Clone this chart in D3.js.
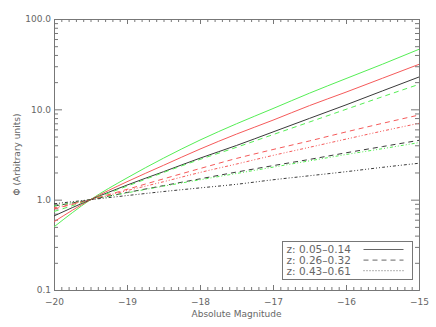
<!DOCTYPE html>
<html>
<head>
<meta charset="utf-8">
<script src="https://cdn.jsdelivr.net/npm/d3@7"></script>
<style>
  body { margin: 0; background: #fff; }
  svg { display: block; font-family: "DejaVu Sans", sans-serif; }
</style>
</head>
<body>
<div id="chart"></div>
<script>
// absolute magnitude grid the curves are read at
const mags = [-20, -19.5, -19, -18.5, -18, -17.5, -17, -16.5, -16, -15.5, -15];

// z: 0.05-0.14 (solid)
const blackLow = [0.66, 1.0, 1.45, 2.04, 2.88, 3.98, 5.62, 7.94, 11.2, 16.0, 22.8];
const redLow   = [0.57, 1.0, 1.58, 2.40, 3.63, 5.32, 7.59, 11.0, 15.5, 22.1, 31.5];
const greenLow = [0.50, 1.0, 1.74, 2.88, 4.57, 6.92, 10.2, 15.1, 21.9, 31.6, 46.2];
// z: 0.26-0.32 (dashed)
const blackMid = [0.85, 1.0, 1.20, 1.43, 1.70, 2.02, 2.38, 2.79, 3.30, 3.87, 4.54];
const redMid   = [0.79, 1.0, 1.30, 1.70, 2.21, 2.86, 3.59, 4.47, 5.62, 7.00, 8.65];
const greenMid = [0.74, 1.0, 1.41, 2.00, 2.79, 3.80, 5.25, 7.24, 10.0, 13.8, 18.9];
// z: 0.43-0.61 (dotted)
const blackHigh = [0.90, 1.0, 1.11, 1.23, 1.35, 1.48, 1.66, 1.84, 2.04, 2.28, 2.53];
const redHigh   = [0.81, 1.0, 1.26, 1.58, 2.00, 2.48, 3.09, 3.80, 4.68, 5.75, 7.00];
const greenHigh = [0.85, 1.0, 1.19, 1.41, 1.66, 1.95, 2.29, 2.69, 3.16, 3.67, 4.28];

const legendLabels = ["z: 0.05\u20130.14", "z: 0.26\u20130.32", "z: 0.43\u20130.61"];
const yTicks = [0.1, 1, 10, 100];
const xTicks = [-20, -19, -18, -17, -16, -15];

const width = 436;
const height = 327;
const margin = {top: 19, right: 17, bottom: 37, left: 54};

const axisColor = "#777";
const textColor = "#666";
const green = "#55ee55";
const red = "#f55a5a";
const black = "#3a3a3a";
const dashes = ["none", "5,4", "3,2,1,2,1,2"];

const series = [
  {values: greenLow, color: green, style: 0},
  {values: redLow, color: red, style: 0},
  {values: blackLow, color: black, style: 0},
  {values: greenMid, color: green, style: 1},
  {values: redMid, color: red, style: 1},
  {values: blackMid, color: black, style: 1},
  {values: greenHigh, color: green, style: 2},
  {values: redHigh, color: red, style: 2},
  {values: blackHigh, color: black, style: 2}
];

const svg = d3.select("#chart")
  .append("svg")
  .attr("width", width)
  .attr("height", height);

const x = d3.scaleLinear()
  .domain([-20, -15])
  .range([margin.left, width - margin.right]);

const y = d3.scaleLog()
  .domain([0.1, 100])
  .range([height - margin.bottom, margin.top]);

// minor tick positions
const xMinor = d3.range(-200, -149).map(d => d / 10).filter(d => !xTicks.includes(d));
const yMinor = [];
[0.1, 1, 10].forEach(p => d3.range(2, 10).forEach(k => yMinor.push(+(p * k).toPrecision(3))));

const fmtX = d => d3.format("d")(d);
const fmtY = d3.format(".1f");

function styleAxis(g) {
  g.attr("color", axisColor)
    .attr("font-family", "DejaVu Sans, sans-serif")
    .attr("font-size", 9);
  g.selectAll("text").attr("fill", textColor);
}

// bottom
svg.append("g")
  .attr("transform", `translate(0,${height - margin.bottom})`)
  .call(d3.axisBottom(x).tickValues(xTicks).tickFormat(fmtX).tickSize(-5).tickSizeOuter(0).tickPadding(9))
  .call(styleAxis);
svg.append("g")
  .attr("transform", `translate(0,${height - margin.bottom})`)
  .call(d3.axisBottom(x).tickValues(xMinor).tickFormat("").tickSize(-3).tickSizeOuter(0))
  .call(styleAxis);
// top
svg.append("g")
  .attr("transform", `translate(0,${margin.top})`)
  .call(d3.axisTop(x).tickValues(xTicks).tickFormat("").tickSize(-5).tickSizeOuter(0))
  .call(styleAxis);
svg.append("g")
  .attr("transform", `translate(0,${margin.top})`)
  .call(d3.axisTop(x).tickValues(xMinor).tickFormat("").tickSize(-3).tickSizeOuter(0))
  .call(styleAxis);
// left
svg.append("g")
  .attr("transform", `translate(${margin.left},0)`)
  .call(d3.axisLeft(y).tickValues(yTicks).tickFormat(fmtY).tickSize(-8).tickSizeOuter(0).tickPadding(3))
  .call(styleAxis);
svg.append("g")
  .attr("transform", `translate(${margin.left},0)`)
  .call(d3.axisLeft(y).tickValues(yMinor).tickFormat("").tickSize(-4).tickSizeOuter(0))
  .call(styleAxis);
// right
svg.append("g")
  .attr("transform", `translate(${width - margin.right},0)`)
  .call(d3.axisRight(y).tickValues(yTicks).tickFormat("").tickSize(-8).tickSizeOuter(0))
  .call(styleAxis);
svg.append("g")
  .attr("transform", `translate(${width - margin.right},0)`)
  .call(d3.axisRight(y).tickValues(yMinor).tickFormat("").tickSize(-4).tickSizeOuter(0))
  .call(styleAxis);

// curves
const line = d3.line()
  .x((d, i) => x(mags[i]))
  .y(d => y(d))
  .curve(d3.curveMonotoneX);

svg.append("g")
  .attr("fill", "none")
  .attr("stroke-width", 1)
  .selectAll("path")
  .data(series)
  .join("path")
  .attr("stroke", d => d.color)
  .attr("stroke-dasharray", d => dashes[d.style])
  .attr("d", d => line(d.values));

// axis titles
svg.append("text")
  .attr("x", (x.range()[0] + x.range()[1]) / 2)
  .attr("y", 317)
  .attr("text-anchor", "middle")
  .attr("font-size", 9)
  .attr("fill", textColor)
  .text("Absolute Magnitude");

svg.append("text")
  .attr("transform", `translate(19.5,${(y.range()[0] + y.range()[1]) / 2}) rotate(-90)`)
  .attr("text-anchor", "middle")
  .attr("font-size", 9)
  .attr("fill", textColor)
  .text("\u03A6 (Arbitrary units)");

// legend
const legend = svg.append("g").attr("transform", "translate(282.5,241.5)");
legend.append("rect")
  .attr("width", 130)
  .attr("height", 38)
  .attr("fill", "#fff")
  .attr("stroke", axisColor);

const rows = legend.selectAll("g.row")
  .data(legendLabels)
  .join("g")
  .attr("class", "row")
  .attr("transform", (d, i) => `translate(0,${8 + i * 10.6})`);

rows.append("text")
  .attr("x", 4)
  .attr("y", 3.8)
  .attr("font-size", 10.5)
  .attr("fill", textColor)
  .text(d => d);

rows.append("line")
  .attr("x1", 81)
  .attr("x2", 121)
  .attr("stroke", "#666")
  .attr("stroke-dasharray", (d, i) => dashes[i] === "none" ? null : (i === 2 ? "1,2" : dashes[i]));
</script>
</body>
</html>
